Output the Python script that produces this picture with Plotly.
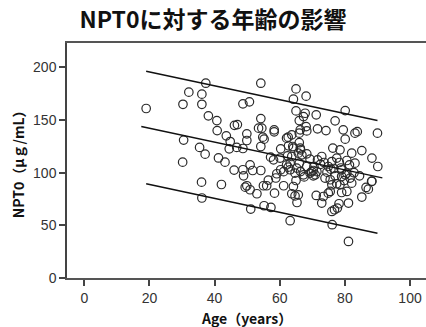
import plotly.graph_objects as go

# ---- data ----
age = [19, 30.3, 32.1, 36.1, 36.1, 37.3, 38.1, 30.5, 35.4, 37.1, 30.2, 36, 36.1,
       40.7, 48.7, 46.1, 47, 40.8, 43.6, 44.8, 44.5, 46.8, 48.7, 41.2, 43.2, 46, 48.7, 48.9, 42.1, 49.4,
       54.2, 65, 68.1, 64.2, 50.7, 65, 67.8, 67.3, 71.2, 80.1, 77, 54.2, 66, 53.5, 54.5, 58.3, 58.3,
       68.1, 68.3, 66.3, 66, 71.6, 74.2, 79.5, 83.1, 83.8, 90, 80.1, 49.9, 54.8, 55.2, 62.1, 62.6, 63.7,
       49.9, 54.2, 64, 66, 66.3, 60.3, 76.3, 78.5, 85.2, 82.1, 62.7, 64.2, 66.4, 65.7, 66.8,
       57.2, 58.1, 60.1, 62.4, 63.7, 68.3, 69.3, 71.6, 72.9, 73.6, 76, 77.5, 78.3, 80.6, 81.4, 83.1,
       88.3, 90.1, 50.9, 51.7, 54.2, 60.3, 59.1, 62.1, 63.2, 62.6, 66, 65.2, 64.7, 66.4, 68.3, 69.8,
       70.9, 70.3, 74.9, 75.7, 76.6, 79, 80.1, 81.6,
       49.9, 50.9, 53, 55, 56, 58.4, 61.2, 61.2, 63.2, 64.2, 65, 63.7, 64.7, 65.7, 65.3,
       67.3, 69.3, 70.3, 71.4, 73.9, 75.5, 77, 76, 77.5, 78.5, 79, 80.6, 82.1,
       71.2, 73.4, 74.9, 75.5, 72.9, 78.2, 81.1, 76, 76.8, 77.7, 79, 80.6, 85.2, 87.2, 88.2,
       86.5, 88.3, 51.1, 55.2, 57.3, 63.2, 76.1, 81.1,
       72.5, 74.5, 78.8, 79.8, 82.8, 84.5, 70.5, 67.5, 58.8, 56.5]
npt0 = [161, 165, 176.5, 174.6, 165, 185, 154, 131, 124, 117.6, 110, 91, 76,
        149.5, 165.4, 145, 145.7, 140, 135, 129.6, 122.7, 124, 123, 114, 110, 102.5, 102.8, 97, 88.8, 86.3,
        185, 179.6, 172.7, 169.8, 167.3, 158.7, 156.5, 153.3, 155, 159, 149.3, 151.4, 149.5, 142.3, 142.3, 140.7, 138.8,
        143.8, 139.7, 140.7, 137.6, 141.7, 140, 140.7, 137.6, 139, 137.6, 131.9, 136.9, 133.8, 131.9, 132.8, 133.8, 136,
        130.6, 124.9, 124.9, 128.5, 123.4, 122.7, 123.4, 121.7, 121, 118.6, 125.5, 123.3, 121.7, 118.6, 117,
        114.8, 112.2, 113.9, 116, 115.4, 117.9, 112.9, 112.2, 115.4, 109.7, 110.6, 113.9, 109.7, 111.6, 107.5, 109.1,
        113.9, 105.9, 107.5, 102.1, 102.1, 102.8, 99, 107.5, 109.1, 105.3, 109.1, 104.4, 99.6, 101.1, 105.9, 101.1,
        98, 102.1, 105.9, 103.4, 104, 102.8, 98, 94.9,
        87.6, 83.8, 80, 87.6, 87.6, 80.6, 87.6, 101, 102.8, 86.9, 92.6, 80, 78, 79, 71.7,
        98, 99.6, 97, 101, 94.9, 93.3, 97, 88.5, 89.5, 88.5, 96.4, 99.6, 90.1,
        78.4, 77.4, 80.6, 82.2, 71.2, 70.5, 71.2, 63.2, 64.8, 66.4, 81.2, 82.2, 76.9, 84.4, 91.7,
        86, 92, 65.5, 68.6, 67, 54.4, 50.6, 34.7,
        108, 100.5, 104.5, 92.5, 100, 97, 106, 96, 95, 93]

# regression (fit line with 95% prediction band)
fit_intercept = 155.5
fit_slope = -0.66
band_half_width = 53.5
fit_age_range = [17.5, 91.5]
band_age_range = [19, 90]

title_text = "NPT0に対する年齢の影響"
x_title = "Age（years）"
y_title = "NPT0（μｇ/mL）"
x_ticks = [0, 20, 40, 60, 80, 100]
y_ticks = [0, 50, 100, 150, 200]

fig = go.Figure()

fig.add_trace(go.Scatter(
    x=age, y=npt0, mode="markers",
    marker=dict(symbol="circle-open", size=8.5, color="#2a2a2a", line=dict(width=1.2)),
    showlegend=False, hoverinfo="skip"))

fit_y = [fit_intercept + fit_slope * a for a in fit_age_range]
fig.add_trace(go.Scatter(x=fit_age_range, y=fit_y, mode="lines",
                         line=dict(color="#111111", width=1.5), showlegend=False,
                         hoverinfo="skip"))
for sgn in (1, -1):
    by = [fit_intercept + fit_slope * a + sgn * band_half_width for a in band_age_range]
    fig.add_trace(go.Scatter(x=band_age_range, y=by, mode="lines",
                             line=dict(color="#111111", width=1.5), showlegend=False,
                             hoverinfo="skip"))

fig.update_layout(
    width=426, height=327,
    margin=dict(l=67, r=0, t=43, b=49, autoexpand=False),
    paper_bgcolor="white", plot_bgcolor="white",
    title=dict(text="<b>" + title_text + "</b>", x=0.5, xanchor="center",
               xref="container", y=0.94, yanchor="middle",
               font=dict(family="Noto Sans CJK JP", size=23, color="#111111")),
    xaxis=dict(range=[-5.3, 104.9], tickvals=x_ticks, ticks="outside", ticklen=6, tickwidth=1.5,
               tickcolor="#444", showline=True, linecolor="#555", linewidth=1.5, mirror=True,
               showgrid=False, zeroline=False, automargin=False,
               tickfont=dict(family="Liberation Sans", size=14, color="#333")),
    yaxis=dict(range=[0, 223.2], tickvals=y_ticks, ticks="outside", ticklen=6, tickwidth=1.5,
               tickcolor="#444", showline=True, linecolor="#444", linewidth=1.5,
               showgrid=False, zeroline=False, automargin=False,
               tickfont=dict(family="Liberation Sans", size=14, color="#333")),
    annotations=[
        dict(text="<b>" + x_title + "</b>", xref="paper", yref="paper", x=0.5, y=-0.17,
             xanchor="center", yanchor="middle", showarrow=False,
             font=dict(family="Noto Sans CJK JP", size=14, color="#111")),
        dict(text="<b>" + y_title + "</b>", xref="paper", yref="paper", x=-0.137, y=0.5,
             xanchor="center", yanchor="middle", showarrow=False, textangle=-90,
             font=dict(family="Noto Sans CJK JP", size=14, color="#111")),
    ],
)

fig.write_html("out.html", config={"displayModeBar": False},
               post_script="document.body.style.margin='0';")
